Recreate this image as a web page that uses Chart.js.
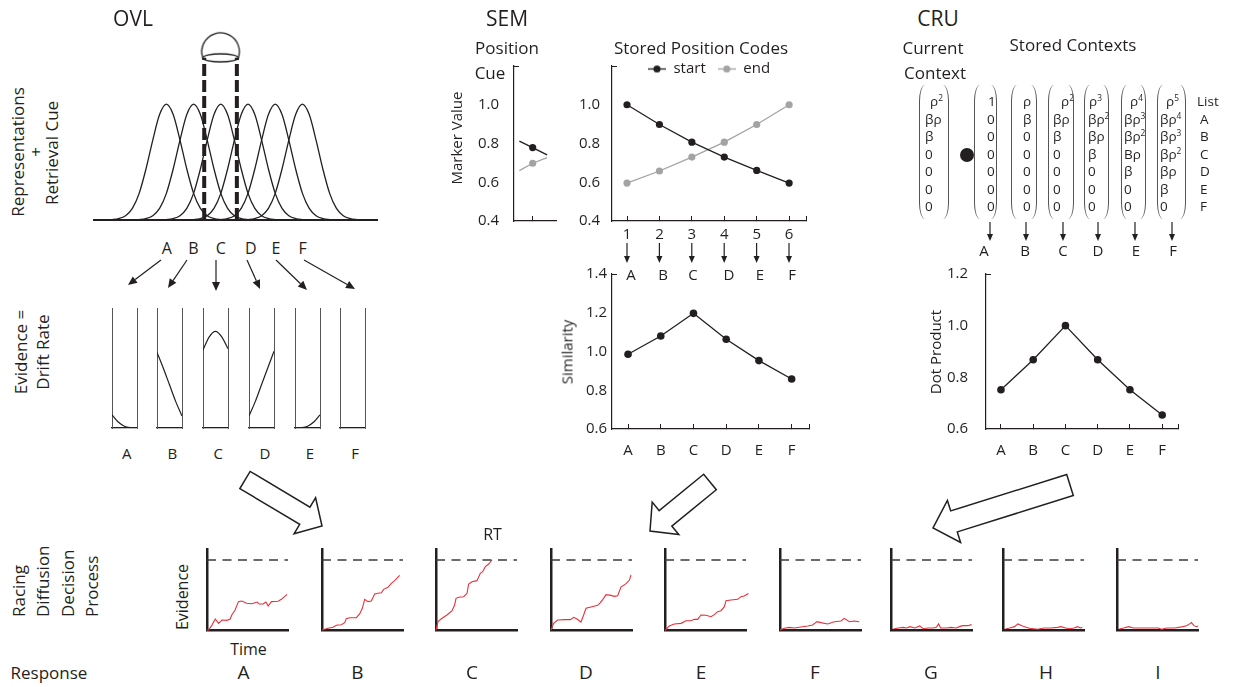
<!DOCTYPE html>
<html><head><meta charset="utf-8">
<script src="https://cdn.jsdelivr.net/npm/chart.js@4.4.1/dist/chart.umd.min.js"></script>
<style>
html,body{margin:0;padding:0;background:#fff;}
#root{position:relative;width:1234px;height:687px;overflow:hidden;background:#fff;font-family:'Open Sans',sans-serif;color:#231f20;}
.t{position:absolute;white-space:nowrap;line-height:1;transform:translate(-50%,-50%);}
.tr{position:absolute;white-space:nowrap;line-height:1;transform:translate(-50%,-50%) rotate(-90deg);}
.tb{position:absolute;white-space:nowrap;line-height:1;transform-origin:0 0;transform:rotate(-90deg) translateY(-50%);}
.tl{position:absolute;white-space:nowrap;line-height:1;transform:translate(0,-50%);}
canvas{position:absolute;}
.br{position:absolute;border-left:1.2px solid #555;border-right:1.2px solid #555;border-radius:6px/16px;box-sizing:border-box;}
sup{font-size:0.62em;vertical-align:0.6em;line-height:0;}
</style></head><body><div id="root"></div>
<script>
// ---------------- DATA ----------------
const ovlLetters = ['A','B','C','D','E','F'];
const gaussCenters = [1,2,3,4,5,6];
const gaussOffsets = [-2.5,-2.25,-2,-1.75,-1.5,-1.25,-1,-0.75,-0.5,-0.25,0,0.25,0.5,0.75,1,1.25,1.5,1.75,2,2.25,2.5];
const gaussHeights = [0,0.001,0.004,0.012,0.037,0.10,0.23,0.44,0.69,0.91,1,0.91,0.69,0.44,0.23,0.10,0.037,0.012,0.004,0.001,0];
const cueEdges = [2.39, 3.59];
const cueTop = 1.40;
const cueCenter = 2.99;

const driftX = [0,0.25,0.5,0.75,1];
const driftA = [0.11,0.05,0.015,0.003,0];
const driftB = [0.63,0.5,0.36,0.22,0.1];
const driftC = [0.65,0.76,0.805,0.76,0.66];
const driftD = [0.1,0.22,0.36,0.5,0.64];
const driftE = [0,0.003,0.015,0.05,0.11];
const driftF = [];

const semPositions = [1,2,3,4,5,6];
const semStart = [1.0,0.898,0.807,0.73,0.661,0.596];
const semEnd = [0.596,0.658,0.73,0.807,0.898,1.0];
const cueX = [-0.405,0,0.439];
const cueStart = [0.812,0.779,0.741];
const cueEnd = [0.66,0.698,0.727];
const similarity = [0.986,1.08,1.197,1.063,0.953,0.858];

const cruCurrent = ['ρ<sup>2</sup>','βρ','β','0','0','0','0'];
const cruStored1 = ['1','0','0','0','0','0','0'];
const cruStored2 = ['ρ','β','0','0','0','0','0'];
const cruStored3 = ['ρ<sup>2</sup>','βρ','β','0','0','0','0'];
const cruStored4 = ['ρ<sup>3</sup>','βρ<sup>2</sup>','βρ','β','0','0','0'];
const cruStored5 = ['ρ<sup>4</sup>','βρ<sup>3</sup>','βρ<sup>2</sup>','Bρ','β','0','0'];
const cruStored6 = ['ρ<sup>5</sup>','βρ<sup>4</sup>','βρ<sup>3</sup>','βρ<sup>2</sup>','βρ','β','0'];
const cruList = ['List','A','B','C','D','E','F'];
const dotProduct = [0.752,0.868,1.0,0.868,0.752,0.654];

const responses = ['A','B','C','D','E','F','G','H','I'];
const threshold = 1.0;
const traceA = [[0,0],[2,0],[6.1,0.07],[10.2,0.157],[14.3,0.095],[18.4,0.143],[24.5,0.138],[28.6,0.157],[30.6,0.214],[34.7,0.286],[38.8,0.405],[42.9,0.414],[49,0.381],[55.1,0.376],[59.2,0.39],[62,0.4],[64.5,0.371],[69.4,0.371],[72.7,0.4],[75.5,0.343],[79.6,0.405],[87.8,0.41],[91.8,0.438],[98.8,0.51]];
const traceB = [[0,0],[1.2,0],[7.4,0.024],[13.6,0.038],[17.7,0.067],[23.9,0.076],[28,0.105],[30,0.162],[34.2,0.176],[42.4,0.176],[46.5,0.229],[49.8,0.31],[52.7,0.438],[56.8,0.405],[60.9,0.414],[65,0.514],[69.1,0.524],[73.3,0.533],[76.1,0.581],[81.5,0.61],[85.6,0.667],[89.7,0.705],[95.9,0.781]];
const traceC = [[0,0],[0.4,0],[2.5,0.119],[7.4,0.167],[13.6,0.214],[19.8,0.276],[23,0.357],[24.7,0.452],[28,0.467],[34.2,0.476],[38.3,0.524],[40.3,0.657],[44.4,0.69],[50.6,0.705],[54.7,0.81],[57.6,0.833],[60.9,0.905],[65,0.943],[69.1,1.0]];
const traceD = [[0,0],[3.3,0.095],[8.2,0.143],[16.5,0.148],[23.9,0.148],[28,0.181],[32.1,0.157],[37,0.114],[40.3,0.214],[43.2,0.31],[49.4,0.329],[57.6,0.352],[60.9,0.39],[65,0.452],[67.9,0.505],[74.1,0.495],[78.2,0.481],[82.3,0.49],[86.4,0.614],[92.6,0.662],[96.7,0.71],[98.8,0.786]];
const traceE = [[0,0],[1.2,0.01],[5.3,0.057],[11.5,0.086],[19.8,0.095],[25.9,0.133],[32.1,0.133],[36.2,0.152],[40.3,0.152],[44.4,0.214],[50.6,0.21],[56.8,0.19],[60.9,0.219],[65,0.262],[69.1,0.276],[73.3,0.333],[75.3,0.419],[81.5,0.429],[89.7,0.438],[93.8,0.476],[97.9,0.486],[103,0.52]];
const traceF = [[0,0],[5.3,0.024],[11.5,0.038],[17.7,0.029],[25.9,0.043],[34.2,0.057],[40.3,0.071],[45.7,0.119],[50.6,0.105],[58.8,0.086],[67.1,0.119],[75.3,0.129],[79.4,0.167],[85.6,0.119],[91.8,0.129],[97.9,0.119]];
const traceG = [[2.9,0.014],[9,0.029],[15.1,0.038],[19.2,0.029],[23.3,0.048],[29.4,0.029],[35.5,0.058],[39.6,0.019],[45.7,0.029],[51.8,0.029],[55.9,0.038],[58.8,0.087],[61.2,0.029],[68.2,0.029],[74.3,0.038],[80.4,0.029],[84.5,0.048],[88.6,0.062],[94.7,0.062],[99.6,0.077]];
const traceH = [[2.9,0.014],[8.2,0.029],[14.3,0.048],[18.4,0.087],[23.3,0.062],[28.6,0.038],[34.7,0.019],[42.9,0.01],[51,0.029],[59.2,0.029],[67.3,0.038],[71.4,0.048],[77.6,0.029],[81.6,0.019],[87.8,0.029],[91.8,0.048],[95.9,0.029],[98,0.038]];
const traceI = [[2.9,0.014],[8.2,0.029],[14.3,0.048],[20.4,0.029],[30.6,0.029],[42.9,0.029],[51,0.029],[55.1,0.01],[61.2,0.029],[71.4,0.029],[81.6,0.048],[85.7,0.062],[89.8,0.087],[91.8,0.106],[95.1,0.062],[98,0.048],[100,0.058]];

// ---------------- SETUP ----------------
const FONT = "'Open Sans', sans-serif";
const INK = '#231f20';
const GRAY = '#a3a3a3';
const RED = '#e8313b';
const CLEAR = 'rgba(0,0,0,0)';
Chart.defaults.font.family = FONT;
Chart.defaults.color = INK;
Chart.defaults.animation = false;
Chart.defaults.events = [];
Chart.defaults.plugins.legend.display = false;
Chart.defaults.plugins.tooltip.enabled = false;

const root = document.getElementById('root');

function makeChart(plot, m, config){
  const c = document.createElement('canvas');
  const W = Math.round(plot.w + m.l + m.r), H = Math.round(plot.h + m.t + m.b);
  c.width = W; c.height = H;
  c.style.left = (plot.l - m.l) + 'px'; c.style.top = (plot.t - m.t) + 'px';
  c.style.width = W + 'px'; c.style.height = H + 'px';
  root.appendChild(c);
  config.options = config.options || {};
  Object.assign(config.options, {responsive:false, devicePixelRatio:1, maintainAspectRatio:false});
  config.options.layout = {padding:{top:m.t, right:m.r, left:0, bottom:0}};
  const sc = config.options.scales;
  for (const k in sc){
    const s = sc[k];
    if (s.position === 'right') s.afterFit = a => { a.width = 0; };
    else if (k.startsWith('x')) s.afterFit = a => { a.height = m.b; };
    else s.afterFit = a => { a.width = m.l; };
  }
  return new Chart(c.getContext('2d'), config);
}
function plainAxis(min, max, border, extra){
  return Object.assign({type:'linear', min, max, display:true,
    ticks:{display:false},
    grid:{display:true, drawOnChartArea:false, drawTicks:false},
    border: border || {display:false}}, extra || {});
}
// x axis with inward tick marks; an extra unlabeled tick closes the right end
function xAxis(min, max, vals, labels, pad){
  return {type:'linear', min, max, display:true,
    afterBuildTicks: s => { s.ticks = vals.map(v => ({value:v})); },
    ticks:{autoSkip:false, maxRotation:0, padding:pad, font:{size:15}, color:INK, callback:(v,i) => labels[i] || ''},
    grid:{display:true, drawOnChartArea:false, drawTicks:true, tickLength:-5, color:INK, lineWidth:1},
    border:{display:true, color:INK, width:1.2}};
}
// y axis: labels up to hideAbove, a small inward stub only at the top value
function yAxis(min, max, hideAbove, pad){
  return {type:'linear', min, max, display:true,
    ticks:{stepSize:0.2, padding:pad + 5, font:{size:15}, color:INK, callback: v => v > hideAbove + 1e-6 ? '' : v.toFixed(1)},
    grid:{display:true, drawOnChartArea:false, drawTicks:true, tickLength:-5, lineWidth:1,
      color: ctx => (ctx.tick && Math.abs(ctx.tick.value - max) < 1e-6) ? INK : CLEAR},
    border:{display:true, color:INK, width:1.2}};
}
function T(text, x, y, size, cls){
  const d = document.createElement('div');
  d.className = cls || 't';
  d.style.left = x + 'px'; d.style.top = y + 'px'; d.style.fontSize = size + 'px';
  d.innerHTML = text;
  root.appendChild(d);
  return d;
}

// ---------------- OVL ----------------
const headIcon = (() => {
  const c = document.createElement('canvas'); c.width = 44; c.height = 56;
  const g = c.getContext('2d'); g.strokeStyle = INK; g.lineWidth = 1.3;
  const cx = 22, ey = 28, r = 18.8, dy = 6.2, a = Math.asin(dy / r);
  g.fillStyle = '#fff';
  g.beginPath(); g.arc(cx, ey - dy, r, Math.PI - a, a, false); g.closePath(); g.fill(); g.stroke();
  g.beginPath(); g.ellipse(cx, ey, 17.6, 4, 0, 0, 2 * Math.PI); g.fill(); g.stroke();
  return c;
})();
const gaussSets = gaussCenters.map(c => ({
  data: gaussOffsets.map((o, i) => ({x: c + o, y: gaussHeights[i]})),
  borderColor: INK, borderWidth: 1.3, pointRadius: 0, cubicInterpolationMode: 'monotone', fill: false
}));
cueEdges.forEach(e => gaussSets.push({data:[{x:e, y:0}, {x:e, y:cueTop}], borderColor:INK, borderWidth:4, borderDash:[12,4], pointRadius:0}));
gaussSets.push({data:[{x:cueCenter, y:cueTop}], showLine:false, pointStyle:headIcon, pointRadius:10});
makeChart({l:93, t:20, w:285, h:201}, {l:10, r:10, t:10, b:10}, {
  type:'line', data:{datasets:gaussSets},
  options:{scales:{
    x: plainAxis(-1.66, 8.74, {display:true, color:INK, width:2}),
    y: plainAxis(0, 1.718)
  }}
});

const driftLeft = [112, 157, 203, 249, 295, 340];
[driftA, driftB, driftC, driftD, driftE, driftF].forEach((arr, k) => {
  makeChart({l:driftLeft[k], t:308, w:25, h:120}, {l:6, r:6, t:6, b:6}, {
    type:'line',
    data:{datasets:[{data: arr.map((v, i) => ({x: driftX[i], y: v})), borderColor:INK, borderWidth:1.2, pointRadius:0, cubicInterpolationMode:'monotone'}]},
    options:{scales:{
      x: plainAxis(0, 1, {display:true, color:INK, width:1.3}),
      y: plainAxis(0, 1, {display:true, color:'#555', width:1, dash:[3,2]}),
      y2: plainAxis(0, 1, {display:true, color:'#555', width:1, dash:[3,2]}, {position:'right'})
    }}
  });
});

// ---------------- SEM ----------------
makeChart({l:514, t:66, w:41.5, h:155}, {l:70, r:30, t:40, b:40}, {
  type:'line',
  data:{datasets:[
    {data: cueX.map((x, i) => ({x, y: cueStart[i]})), borderColor:INK, backgroundColor:INK, borderWidth:1.3, pointRadius:[0,3.6,0], pointBorderWidth:0},
    {data: cueX.map((x, i) => ({x, y: cueEnd[i]})), borderColor:GRAY, backgroundColor:GRAY, borderWidth:1.3, pointRadius:[0,3.6,0], pointBorderWidth:0}
  ]},
  options:{scales:{
    x: xAxis(-0.568, 0.71, [0], [''], 4),
    y: yAxis(0.4, 1.2, 1.0, 15)
  }}
});

function legendIcon(color){
  const c = document.createElement('canvas'); c.width = 18; c.height = 9;
  const g = c.getContext('2d'); g.strokeStyle = color; g.fillStyle = color; g.lineWidth = 1.3;
  g.beginPath(); g.moveTo(0, 4.5); g.lineTo(18, 4.5); g.stroke();
  g.beginPath(); g.arc(9, 4.5, 3.6, 0, 2 * Math.PI); g.fill();
  return c;
}
// Keep the legend out of the layout (height 0) and place it over the top of the plot
const legendPlace = {id:'legendPlace',
  beforeLayout(chart){
    const lg = chart.legend;
    if (lg && !lg._wrapped){
      const f = lg.fit;
      lg.fit = function(){ f.call(this); this._realH = this.height; this.height = 0; };
      lg._wrapped = true;
    }
  },
  afterLayout(chart, args, opts){
    const lg = chart.legend; if (!lg) return;
    const ca = chart.chartArea;
    lg.left = ca.left; lg.right = ca.right; lg.width = ca.right - ca.left;
    const h = lg._realH || 0;
    lg.height = h; lg.top = opts.cy - h / 2; lg.bottom = lg.top + h;
  }
};
const semChart = {l:612, t:66, w:194, h:155}, semM = {l:50, r:30, t:40, b:40};
makeChart(semChart, semM, {
  type:'line',
  data:{datasets:[
    {label:'start', data: semPositions.map((p, i) => ({x:p, y:semStart[i]})), borderColor:INK, backgroundColor:INK, borderWidth:1.3, pointRadius:3.6, pointBorderWidth:0},
    {label:'end', data: semPositions.map((p, i) => ({x:p, y:semEnd[i]})), borderColor:GRAY, backgroundColor:GRAY, borderWidth:1.3, pointRadius:3.6, pointBorderWidth:0}
  ]},
  options:{
    scales:{
      x: xAxis(0.537, 6.52, semPositions.concat([6.52]), semPositions.map(String), 10),
      y: yAxis(0.4, 1.2, 1.0, 12)
    },
    plugins:{
      legend:{display:true, position:'top', align:'center',
        labels:{usePointStyle:true, pointStyleWidth:18, boxHeight:9, padding:12, font:{size:15}, color:INK,
          generateLabels: ch => ch.data.datasets.map((ds, i) => ({text: ds.label, pointStyle: legendIcon(i ? GRAY : INK), fillStyle: ds.borderColor, strokeStyle: ds.borderColor, lineWidth:0, hidden:false, datasetIndex:i, fontColor:INK}))}},
      legendPlace:{cy: 68 - (semChart.t - semM.t)}
    }
  },
  plugins:[legendPlace]
});

makeChart({l:612, t:274, w:197, h:155}, {l:50, r:30, t:40, b:40}, {
  type:'line',
  data:{datasets:[{data: semPositions.map((p, i) => ({x:p, y:similarity[i]})), borderColor:INK, backgroundColor:INK, borderWidth:1.3, pointRadius:3.8, pointBorderWidth:0}]},
  options:{scales:{
    x: xAxis(0.51, 6.53, semPositions.concat([6.53]), ovlLetters, 18),
    y: yAxis(0.6, 1.4, 1.4, 5)
  }}
});

// ---------------- CRU ----------------
makeChart({l:986, t:274, w:192, h:155}, {l:60, r:30, t:40, b:40}, {
  type:'line',
  data:{datasets:[{data: semPositions.map((p, i) => ({x:p, y:dotProduct[i]})), borderColor:INK, backgroundColor:INK, borderWidth:1.3, pointRadius:3.8, pointBorderWidth:0}]},
  options:{scales:{
    x: xAxis(0.536, 6.49, semPositions.concat([6.49]), ovlLetters, 18),
    y: yAxis(0.6, 1.2, 1.2, 18)
  }}
});

// ---------------- Racing diffusion panels ----------------
const panelLeft = [207, 321.7, 436, 551, 665, 780, 891, 1003, 1117];
[traceA, traceB, traceC, traceD, traceE, traceF, traceG, traceH, traceI].forEach((tr, k) => {
  makeChart({l:panelLeft[k], t:549, w:81, h:81}, {l:6, r:10, t:6, b:6}, {
    type:'line',
    data:{datasets:[
      {data:[{x:0, y:threshold}, {x:100, y:threshold}], borderColor:'#3a3a3a', borderWidth:1.5, borderDash:[9,6.5], pointRadius:0},
      {data: tr.map(p => ({x:p[0], y:p[1]})), borderColor:RED, borderWidth:1.1, pointRadius:0, clip:false}
    ]},
    options:{scales:{
      x: plainAxis(0, 100, {display:true, color:INK, width:2.5}),
      y: plainAxis(0, 81/70, {display:true, color:INK, width:2.5})
    }}
  });
});

// ---------------- TEXT ----------------
T('OVL', 133, 18, 21); T('SEM', 507, 18, 21); T('CRU', 938, 18, 21);
T('Representations', 17, 152, 17, 'tr'); T('+', 35, 152, 17, 'tr'); T('Retrieval Cue', 51, 153, 17, 'tr');
T('Evidence =', 20, 352, 17, 'tr'); T('Drift Rate', 42, 352, 17, 'tr');
[166.7, 193.3, 220.7, 250.7, 276, 302.7].forEach((x, i) => T(ovlLetters[i], x, 248, 16));
[126.7, 172.3, 218.3, 265, 310, 355].forEach((x, i) => T(ovlLetters[i], x, 453, 15));
T('Position', 507, 47, 17); T('Cue', 490, 72, 17);
T('Marker Value', 456, 138, 15, 'tr');
T('Stored Position Codes', 701, 47, 17);
[631, 663, 693, 729, 760, 792].forEach((x, i) => T(ovlLetters[i], x, 274, 15));
T('Similarity', 567, 352, 15, 'tr');
T('Current', 933, 46.5, 17); T('Context', 935, 71.5, 17); T('Stored Contexts', 1073, 44, 17);
[984, 1025, 1063, 1098, 1136, 1173].forEach((x, i) => T(ovlLetters[i], x, 250, 15));
T('Dot Product', 935, 352, 15, 'tr');
T('RT', 492.5, 534, 16);
T('Evidence', 182, 597, 16, 'tr');
T('Time', 248.5, 649, 16);
T('Response', 49, 672, 17);
[243.5, 357.5, 472, 586, 701, 815, 931, 1046, 1158].forEach((x, i) => T(responses[i], x, 671.5, 19));
['Racing', 'Diffusion', 'Decision', 'Process'].forEach((s, i) => T(s, [18, 42, 67, 91][i], 617, 17, 'tb'));

// CRU vectors
const rowY = [102, 119.6, 137.1, 154.7, 172.2, 189.8, 207.3];
const brackets = [[919,949],[974,997],[1011,1037],[1048,1074],[1084,1109],[1121,1146],[1157,1186]];
brackets.forEach(b => {
  const d = document.createElement('div'); d.className = 'br';
  d.style.left = b[0] + 'px'; d.style.top = '85px'; d.style.width = (b[1] - b[0]) + 'px'; d.style.height = '134px';
  root.appendChild(d);
});
const cols = [cruCurrent, cruStored1, cruStored2, cruStored3, cruStored4, cruStored5, cruStored6, cruList];
const colLeft = [925, 987, 1023, 1053, 1088, 1124, 1160, 1197];
const colFirst = [930, 988, 1023, 1061, 1089, 1130, 1166, 1197];
cols.forEach((col, c) => col.forEach((s, r) => T(s, r === 0 ? colFirst[c] : (c === 7 ? 1200 : colLeft[c]), rowY[r], 13.5, 'tl')));
const dot = document.createElement('div');
dot.style.cssText = 'position:absolute;left:960px;top:148px;width:14px;height:14px;border-radius:50%;background:#231f20;';
root.appendChild(dot);

// ---------------- ARROWS (SVG) ----------------
const NS = 'http://www.w3.org/2000/svg';
const svg = document.createElementNS(NS, 'svg');
svg.setAttribute('width', 1234); svg.setAttribute('height', 687);
svg.style.cssText = 'position:absolute;left:0;top:0;';
root.appendChild(svg);
function el(name, attrs){ const e = document.createElementNS(NS, name); for (const k in attrs) e.setAttribute(k, attrs[k]); svg.appendChild(e); return e; }
function arrow(x1, y1, x2, y2, hl, hw){
  const dx = x2 - x1, dy = y2 - y1, L = Math.hypot(dx, dy), ux = dx / L, uy = dy / L, nx = -uy, ny = ux;
  const bx = x2 - ux * hl, by = y2 - uy * hl;
  el('line', {x1, y1, x2: bx, y2: by, stroke: INK, 'stroke-width': 1.2});
  el('polygon', {points: `${x2},${y2} ${bx + nx * hw / 2},${by + ny * hw / 2} ${bx - nx * hw / 2},${by - ny * hw / 2}`, fill: INK});
}
function bigArrow(tx, ty, px, py, sw, hw, hl){
  const dx = px - tx, dy = py - ty, L = Math.hypot(dx, dy), ux = dx / L, uy = dy / L, nx = -uy, ny = ux;
  const bx = px - ux * hl, by = py - uy * hl;
  const P = [[tx + nx * sw / 2, ty + ny * sw / 2], [bx + nx * sw / 2, by + ny * sw / 2], [bx + nx * hw / 2, by + ny * hw / 2], [px, py],
    [bx - nx * hw / 2, by - ny * hw / 2], [bx - nx * sw / 2, by - ny * sw / 2], [tx - nx * sw / 2, ty - ny * sw / 2]];
  el('polygon', {points: P.map(p => p.join(',')).join(' '), fill: '#fff', stroke: INK, 'stroke-width': 1.5, 'stroke-linejoin': 'miter'});
}
const ovlArrowFrom = [[161,260],[187,260],[216,260],[247,260],[276,260],[304,260]];
const ovlArrowTo = [[128,285],[168,288],[216,291],[260,289],[307,290],[355,289]];
ovlArrowFrom.forEach((f, i) => arrow(f[0], f[1], ovlArrowTo[i][0], ovlArrowTo[i][1], 9, 8));
[627, 659.4, 691.8, 724.2, 756.6, 789].forEach(x => arrow(x, 243, x, 263, 7, 6));
[990, 1026, 1063, 1098, 1135, 1172].forEach(x => arrow(x, 222, x, 241, 7, 6));
bigArrow(245, 480, 322, 526, 20, 42, 20);
bigArrow(710, 482, 650, 531, 20, 42, 20);
bigArrow(1070, 485, 933, 528, 22, 44, 22);
</script></body></html>
